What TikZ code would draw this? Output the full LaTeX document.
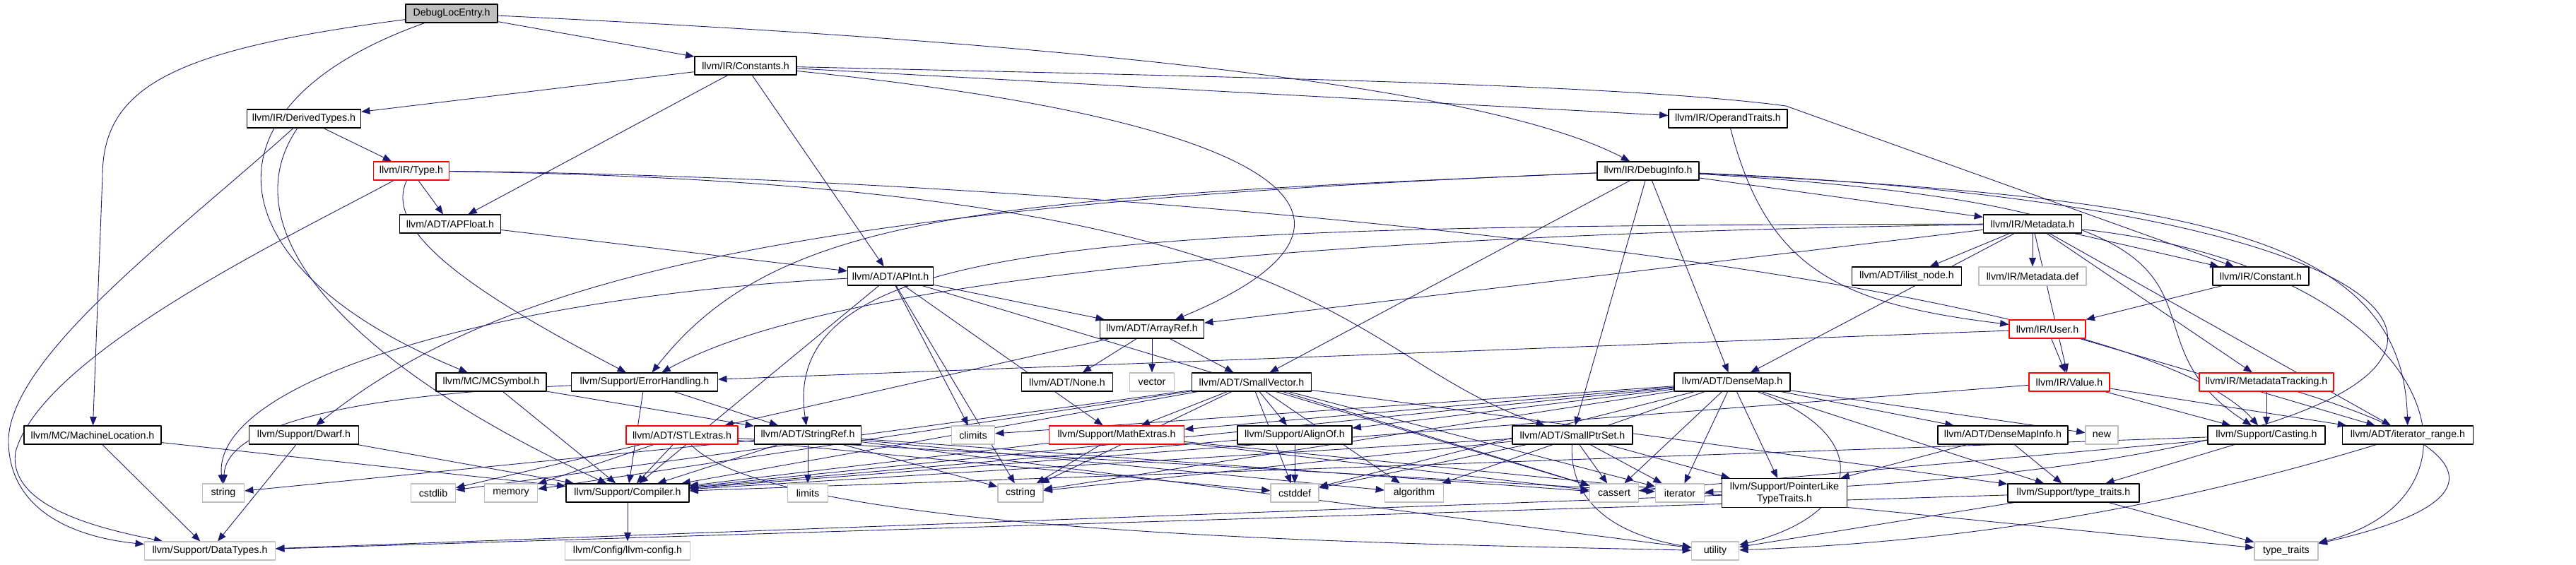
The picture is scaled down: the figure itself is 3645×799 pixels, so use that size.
\documentclass[tikz,border=0pt]{standalone}
\usepackage{fontspec}
\setmainfont{Liberation Sans}
\usetikzlibrary{arrows.meta,backgrounds}
\definecolor{edgeblue}{HTML}{191970}
\definecolor{sysgray}{HTML}{BFBFBF}
\definecolor{rootgray}{HTML}{BFBFBF}
\begin{document}
\begin{tikzpicture}[x=0.02cm, y=-0.02cm, font=\fontsize{8.1}{9.6}\selectfont, line join=round, >={Triangle[length=7pt,width=5.5pt]},
	box/.style={rectangle, inner sep=0pt, minimum height=0.52cm, line width=0.7pt, fill=white},
	hdr/.style={box, draw=black},
	miss/.style={box, draw=red},
	sys/.style={box, draw=sysgray},
	root/.style={box, draw=black, fill=rootgray},
	wd/.style={minimum width=#1*0.02cm},
	dep/.style={->, draw=edgeblue, line width=0.5pt}]
	\path[use as bounding box] (0,0) rectangle (3645,799);
	% rows of headers, top to bottom
	\node[root, wd=130] (dle) at (639,19) {DebugLocEntry.h};
	\node[hdr, wd=144] (constants) at (1055,93) {llvm/IR/Constants.h};
	\node[hdr, wd=161] (derived) at (430,168) {llvm/IR/DerivedTypes.h};
	\node[hdr, wd=168] (optraits) at (2445,168) {llvm/IR/OperandTraits.h};
	\node[miss, wd=107] (type) at (582,242) {llvm/IR/Type.h};
	\node[hdr, wd=144] (dinfo) at (2332,242) {llvm/IR/DebugInfo.h};
	\node[hdr, wd=143] (apfloat) at (637,317) {llvm/ADT/APFloat.h};
	\node[hdr, wd=139] (metadata) at (2876,317) {llvm/IR/Metadata.h};
	\node[hdr, wd=121] (apint) at (1260,391) {llvm/ADT/APInt.h};
	\node[hdr, wd=155] (ilist) at (2698,391) {llvm/ADT/ilist\_node.h};
	\node[sys, wd=152] (mddef) at (2876,391) {llvm/IR/Metadata.def};
	\node[hdr, wd=136] (constant) at (3199,391) {llvm/IR/Constant.h};
	\node[hdr, wd=147] (arrayref) at (1630,466) {llvm/ADT/ArrayRef.h};
	\node[miss, wd=108] (user) at (2897,466) {llvm/IR/User.h};
	\node[hdr, wd=156] (mcsymbol) at (695,541) {llvm/MC/MCSymbol.h};
	\node[hdr, wd=207] (errh) at (912,541) {llvm/Support/ErrorHandling.h};
	\node[hdr, wd=129] (none) at (1510,541) {llvm/ADT/None.h};
	\node[sys, wd=63] (vector) at (1630,541) {vector};
	\node[hdr, wd=169] (smallvec) at (1771,541) {llvm/ADT/SmallVector.h};
	\node[hdr, wd=164] (densemap) at (2451,541) {llvm/ADT/DenseMap.h};
	\node[miss, wd=114] (value) at (2928,541) {llvm/IR/Value.h};
	\node[miss, wd=190] (mdtrack) at (3207,541) {llvm/IR/MetadataTracking.h};
	\node[hdr, wd=194] (machloc) at (131,616) {llvm/MC/MachineLocation.h};
	\node[hdr, wd=155] (dwarf) at (430,616) {llvm/Support/Dwarf.h};
	\node[miss, wd=158] (stlext) at (965,616) {llvm/ADT/STLExtras.h};
	\node[hdr, wd=151] (stringref) at (1143,616) {llvm/ADT/StringRef.h};
	\node[sys, wd=61] (climits) at (1377,616) {climits};
	\node[miss, wd=191] (mathext) at (1580,616) {llvm/Support/MathExtras.h};
	\node[hdr, wd=162] (alignof) at (1832,616) {llvm/Support/AlignOf.h};
	\node[hdr, wd=170] (smallptr) at (2225,616) {llvm/ADT/SmallPtrSet.h};
	\node[hdr, wd=184] (dmapinfo) at (2834,616) {llvm/ADT/DenseMapInfo.h};
	\node[sys, wd=46] (new) at (2974,616) {new};
	\node[hdr, wd=166] (casting) at (3207,616) {llvm/Support/Casting.h};
	\node[hdr, wd=185] (itrange) at (3407,616) {llvm/ADT/iterator\_range.h};
	\node[sys, wd=59] (string) at (316,698) {string};
	\node[sys, wd=63] (cstdlib) at (613,698) {cstdlib};
	\node[sys, wd=75] (memory) at (723,698) {memory};
	\node[hdr, wd=174] (compiler) at (888,698) {llvm/Support/Compiler.h};
	\node[sys, wd=57] (limits) at (1143,698) {limits};
	\node[sys, wd=64] (cstring) at (1444,698) {cstring};
	\node[sys, wd=68] (cstddef) at (1832,698) {cstddef};
	\node[sys, wd=83] (algorithm) at (2001,698) {algorithm};
	\node[sys, wd=69] (cassert) at (2284,698) {cassert};
	\node[sys, wd=69] (iterator) at (2377,698) {iterator};
	\node[hdr, wd=177, minimum height=0.82cm, align=center] (ptrlike) at (2525,698) {llvm/Support/PointerLike\\TypeTraits.h};
	\node[hdr, wd=186] (stypetraits) at (2934,698) {llvm/Support/type\_traits.h};
	\node[sys, wd=185] (datatypes) at (297,780) {llvm/Support/DataTypes.h};
	\node[sys, wd=177] (llvmconfig) at (888,780) {llvm/Config/llvm-config.h};
	\node[sys, wd=67] (utility) at (2427,780) {utility};
	\node[sys, wd=90] (typetraits) at (3235,780) {type\_traits};

	\begin{scope}[on background layer]
	% DebugLocEntry.h
	\draw[dep] (dle) -- (constants);
	\draw[dep] (dle) .. controls (1500,60) and (2100,120) .. (dinfo);
	\draw[dep] (dle) .. controls (270,150) and (300,380) .. (mcsymbol);
	\draw[dep] (dle) .. controls (250,70) and (145,120) .. (145,250) -- (machloc);
	% Constants.h
	\foreach \t in {derived,apfloat,apint,optraits} \draw[dep] (constants) -- (\t);
	\draw[dep] (constants) .. controls (1900,180) and (1960,330) .. (arrayref);
	\draw[dep] (constants) .. controls (1800,110) and (2300,120) .. (2527,150) -- (constant);
	% DerivedTypes.h, OperandTraits.h, Type.h
	\draw[dep] (derived) -- (type);
	\draw[dep] (derived) .. controls (320,330) and (500,520) .. (compiler);
	\draw[dep] (derived) .. controls (250,330) and (20,500) .. (12,620) .. controls (10,720) and (100,760) .. (datatypes);
	\draw[dep] (optraits) .. controls (2500,380) and (2600,430) .. (user);
	\draw[dep] (type) -- (apfloat);
	\draw[dep] (type) .. controls (420,330) and (60,500) .. (22,640) .. controls (10,720) and (150,750) .. (datatypes);
	\draw[dep] (type) .. controls (540,330) and (680,420) .. (errh);
	\draw[dep] (type) .. controls (1900,260) and (1890,500) .. (smallptr);
	\draw[dep] (type) .. controls (1500,250) and (3000,380) .. (casting);
	% DebugInfo.h
	\foreach \t in {metadata,densemap,smallptr,smallvec} \draw[dep] (dinfo) -- (\t);
	\draw[dep] (dinfo) .. controls (1400,280) and (1100,300) .. (errh);
	\draw[dep] (dinfo) .. controls (1100,290) and (700,400) .. (dwarf);
	\draw[dep] (dinfo) .. controls (3100,280) and (3400,330) .. (itrange);
	\draw[dep] (dinfo) .. controls (3300,300) and (2950,450) .. (casting);
	\draw[dep] (dinfo) .. controls (3700,300) and (3700,660) .. (iterator);
	% Metadata.h
	\foreach \t in {arrayref,densemap,ilist,mddef,value,mdtrack,itrange,constant} \draw[dep] (metadata) -- (\t);
	\draw[dep] (metadata) .. controls (1600,320) and (1100,330) .. (stringref);
	\draw[dep] (metadata) .. controls (2000,330) and (1200,380) .. (errh);
	\draw[dep] (metadata) .. controls (3450,380) and (3550,700) .. (typetraits);
	% APFloat.h, APInt.h, Constant.h, ArrayRef.h, User.h
	\draw[dep] (apfloat) -- (apint);
	\foreach \t in {arrayref,compiler,mathext,cassert,climits,cstring} \draw[dep] (apint) -- (\t);
	\draw[dep] (apint) .. controls (700,420) and (300,540) .. (string);
	\draw[dep] (constant) -- (user);
	\foreach \t in {none,vector,smallvec,stlext} \draw[dep] (arrayref) -- (\t);
	\foreach \t in {value,itrange,errh} \draw[dep] (user) -- (\t);
	% row of MCSymbol.h ... MetadataTracking.h
	\foreach \t in {compiler,stringref} \draw[dep] (mcsymbol) -- (\t);
	\foreach \t in {compiler,stringref} \draw[dep] (errh) -- (\t);
	\draw[dep] (errh) .. controls (500,560) and (320,600) .. (string);
	\foreach \t in {alignof,compiler,mathext,stypetraits,algorithm,cassert,cstddef,cstdlib,cstring,iterator,memory}
		\draw[dep] (smallvec) -- (\t);
	\foreach \t in {dmapinfo,alignof,compiler,mathext,ptrlike,stypetraits,algorithm,cassert,climits,cstddef,cstring,iterator,new}
		\draw[dep] (densemap) -- (\t);
	\draw[dep] (densemap) .. controls (2660,620) and (2630,730) .. (utility);
	\foreach \t in {casting,itrange,compiler} \draw[dep] (value) -- (\t);
	\draw[dep] (mdtrack) -- (casting);
	\draw[dep] (mdtrack) .. controls (3560,650) and (3500,720) .. (typetraits);
	% row of MachineLocation.h ... iterator_range.h
	\foreach \t in {compiler,datatypes} \draw[dep] (machloc) -- (\t);
	\foreach \t in {compiler,datatypes} \draw[dep] (dwarf) -- (\t);
	\foreach \t in {compiler,cstddef,cstdlib,iterator,memory} \draw[dep] (stlext) -- (\t);
	\draw[dep] (stlext) .. controls (1100,760) and (2000,770) .. (utility);
	\foreach \t in {compiler,algorithm,cassert,cstring,limits,string,utility} \draw[dep] (stringref) -- (\t);
	\foreach \t in {compiler,cassert,cstring,typetraits} \draw[dep] (mathext) -- (\t);
	\foreach \t in {compiler,cstddef} \draw[dep] (alignof) -- (\t);
	\foreach \t in {compiler,ptrlike,cassert,cstddef,cstring,iterator} \draw[dep] (smallptr) -- (\t);
	\draw[dep] (smallptr) .. controls (2220,720) and (2300,760) .. (utility);
	\foreach \t in {ptrlike,stypetraits} \draw[dep] (dmapinfo) -- (\t);
	\foreach \t in {compiler,stypetraits,cassert} \draw[dep] (casting) -- (\t);
	\draw[dep] (itrange) .. controls (3000,740) and (2700,770) .. (utility);
	% bottom rows
	\draw[dep] (compiler) -- (llvmconfig);
	\draw[dep] (ptrlike) -- (datatypes);
	\foreach \t in {datatypes,typetraits,utility} \draw[dep] (stypetraits) -- (\t);
	\end{scope}
\end{tikzpicture}
\end{document}
